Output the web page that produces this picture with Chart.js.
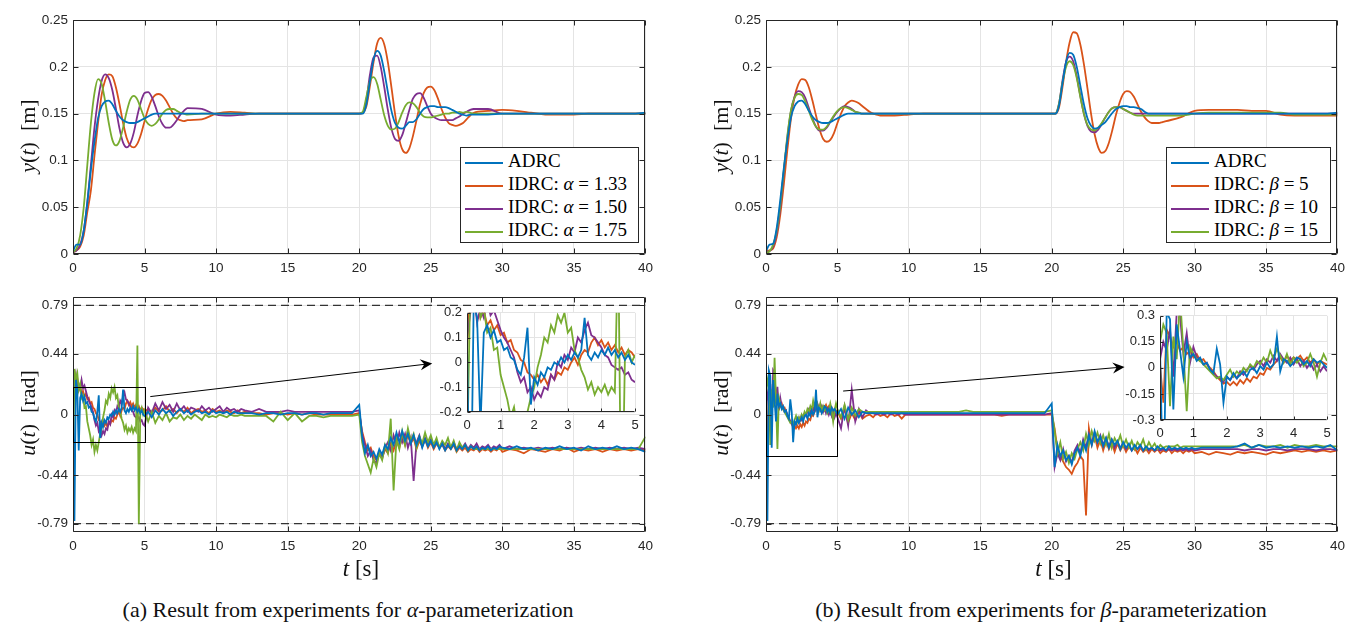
<!DOCTYPE html>
<html>
<head>
<meta charset="utf-8">
<script src="https://cdn.jsdelivr.net/npm/chart.js@4.4.1/dist/chart.umd.min.js"></script>
<style>
  html, body { margin: 0; padding: 0; background: #fff; }
  #stage { position: relative; width: 1360px; height: 628px; overflow: hidden; }
  #stage canvas { position: absolute; }
  .ttl { position: absolute; font-family: "Liberation Serif", "Times New Roman", serif; color: #111; white-space: nowrap; }
  .rot { transform: translate(-50%, -50%) rotate(-90deg); }
  .ctr { transform: translate(-50%, -50%); }
  .legend { position: absolute; background: #fff; border: 1px solid #262626; box-sizing: border-box;
            font-family: "Liberation Serif", "Times New Roman", serif; font-size: 19px; color: #000; }
  .legend .row { height: 23px; line-height: 23px; white-space: nowrap; }
  .legend .swatch { display: inline-block; width: 38px; height: 0; border-top: 2px solid; vertical-align: middle; margin: 0 5px 0 4px; }
</style>
</head>
<body>
<div id="stage"></div>
<script>
// ---- axes / ticks ----
const xTicks = [0, 5, 10, 15, 20, 25, 30, 35, 40];
const yTicks = [0, 0.05, 0.1, 0.15, 0.2, 0.25];
const uTicks = [-0.79, -0.44, 0, 0.44, 0.79];
const uLimit = 0.79;
const insetXTicks = [0, 1, 2, 3, 4, 5];
const insetTicksA = [-0.2, -0.1, 0, 0.1, 0.2];
const insetTicksB = [-0.3, -0.15, 0, 0.15, 0.3];

const colors = ['#0072BD', '#D95319', '#7E2F8E', '#77AC30'];
const paramsA = ['1.33', '1.50', '1.75'];
const paramsB = ['5', '10', '15'];

// ---- output y(t) [m] ----
const tY = [
  0, 0.25, 0.5, 0.75, 1, 1.25, 1.5, 1.75, 2, 2.25,
  2.5, 2.75, 3, 3.25, 3.5, 3.75, 4, 4.25, 4.5, 4.75,
  5, 5.25, 5.5, 5.75, 6, 6.25, 6.5, 6.75, 7, 7.25,
  7.5, 7.75, 8, 9, 10, 11, 12, 13, 14, 15,
  16, 17, 18, 19, 20, 20.25, 20.5, 20.75, 21, 21.25,
  21.5, 21.75, 22, 22.25, 22.5, 22.75, 23, 23.25, 23.5, 23.75,
  24, 24.25, 24.5, 24.75, 25, 25.25, 25.5, 25.75, 26, 26.25,
  26.5, 26.75, 27, 27.25, 27.5, 27.75, 28, 29, 30, 31,
  32, 33, 34, 35, 36, 37, 38, 39, 40
];

const yA_adrc = [
  0.003, 0.010, 0.010, 0.025, 0.055, 0.090, 0.120, 0.145, 0.158, 0.163,
  0.164, 0.160, 0.153, 0.147, 0.143, 0.141, 0.140, 0.140, 0.141, 0.143,
  0.145, 0.147, 0.149, 0.150, 0.150, 0.150, 0.150, 0.150, 0.150, 0.150,
  0.150, 0.150, 0.150, 0.150, 0.150, 0.150, 0.150, 0.150, 0.150, 0.150,
  0.150, 0.150, 0.150, 0.150, 0.150, 0.150, 0.160, 0.185, 0.208, 0.217,
  0.212, 0.195, 0.173, 0.153, 0.140, 0.135, 0.134, 0.137, 0.141, 0.141,
  0.144, 0.150, 0.155, 0.157, 0.158, 0.158, 0.157, 0.157, 0.157, 0.156,
  0.154, 0.152, 0.150, 0.149, 0.148, 0.149, 0.149, 0.149, 0.150, 0.150,
  0.150, 0.150, 0.150, 0.150, 0.150, 0.150, 0.150, 0.150, 0.151
];
const yA_133 = [
  0.002, 0.004, 0.008, 0.020, 0.045, 0.068, 0.105, 0.140, 0.170, 0.186,
  0.192, 0.190, 0.178, 0.160, 0.140, 0.124, 0.116, 0.114, 0.118, 0.128,
  0.142, 0.155, 0.165, 0.170, 0.171, 0.169, 0.164, 0.157, 0.150, 0.145,
  0.143, 0.142, 0.143, 0.144, 0.150, 0.152, 0.151, 0.150, 0.150, 0.150,
  0.150, 0.150, 0.150, 0.150, 0.150, 0.151, 0.158, 0.180, 0.205, 0.225,
  0.231, 0.224, 0.205, 0.178, 0.150, 0.126, 0.112, 0.108, 0.113, 0.126,
  0.143, 0.160, 0.172, 0.178, 0.179, 0.175, 0.166, 0.155, 0.146, 0.140,
  0.138, 0.137, 0.138, 0.140, 0.144, 0.148, 0.151, 0.153, 0.154, 0.153,
  0.151, 0.149, 0.149, 0.149, 0.150, 0.150, 0.150, 0.150, 0.150
];
const yA_150 = [
  0.002, 0.004, 0.010, 0.025, 0.055, 0.095, 0.135, 0.165, 0.185, 0.192,
  0.188, 0.175, 0.155, 0.134, 0.119, 0.114, 0.118, 0.130, 0.148, 0.163,
  0.172, 0.173, 0.168, 0.158, 0.147, 0.139, 0.135, 0.135, 0.138, 0.143,
  0.149, 0.153, 0.156, 0.155, 0.149, 0.148, 0.149, 0.150, 0.150, 0.150,
  0.150, 0.150, 0.150, 0.150, 0.150, 0.151, 0.165, 0.192, 0.210, 0.212,
  0.200, 0.178, 0.154, 0.134, 0.123, 0.121, 0.127, 0.140, 0.154, 0.166,
  0.171, 0.172, 0.167, 0.158, 0.150, 0.146, 0.144, 0.143, 0.143, 0.143,
  0.143, 0.145, 0.147, 0.150, 0.152, 0.154, 0.155, 0.155, 0.150, 0.150,
  0.150, 0.150, 0.150, 0.150, 0.150, 0.150, 0.150, 0.150, 0.150
];
const yA_175 = [
  0.002, 0.006, 0.020, 0.050, 0.095, 0.140, 0.172, 0.187, 0.182, 0.163,
  0.140, 0.122, 0.116, 0.121, 0.135, 0.152, 0.165, 0.169, 0.165, 0.155,
  0.145, 0.139, 0.137, 0.139, 0.144, 0.150, 0.154, 0.155, 0.155, 0.153,
  0.151, 0.150, 0.149, 0.150, 0.150, 0.150, 0.150, 0.150, 0.150, 0.150,
  0.150, 0.150, 0.150, 0.150, 0.150, 0.152, 0.168, 0.185, 0.189, 0.182,
  0.165, 0.148, 0.137, 0.133, 0.134, 0.141, 0.151, 0.159, 0.162, 0.161,
  0.157, 0.151, 0.147, 0.146, 0.146, 0.147, 0.148, 0.149, 0.150, 0.150,
  0.151, 0.151, 0.152, 0.151, 0.152, 0.151, 0.150, 0.150, 0.150, 0.150,
  0.150, 0.150, 0.150, 0.150, 0.150, 0.150, 0.150, 0.150, 0.150
];

const yB_adrc = [
  0.003, 0.010, 0.011, 0.028, 0.058, 0.092, 0.122, 0.146, 0.158, 0.163,
  0.164, 0.160, 0.153, 0.147, 0.143, 0.141, 0.140, 0.140, 0.141, 0.143,
  0.145, 0.147, 0.149, 0.150, 0.150, 0.150, 0.150, 0.150, 0.150, 0.150,
  0.150, 0.150, 0.150, 0.150, 0.150, 0.150, 0.150, 0.150, 0.150, 0.150,
  0.150, 0.150, 0.150, 0.150, 0.150, 0.150, 0.158, 0.182, 0.205, 0.215,
  0.213, 0.200, 0.180, 0.160, 0.145, 0.137, 0.134, 0.135, 0.138, 0.141,
  0.146, 0.151, 0.155, 0.157, 0.158, 0.158, 0.157, 0.157, 0.156, 0.155,
  0.152, 0.150, 0.150, 0.150, 0.150, 0.150, 0.150, 0.150, 0.150, 0.150,
  0.150, 0.150, 0.150, 0.150, 0.150, 0.150, 0.150, 0.150, 0.151
];
const yB_5 = [
  0.003, 0.004, 0.006, 0.018, 0.042, 0.075, 0.112, 0.145, 0.168, 0.181,
  0.187, 0.186, 0.178, 0.164, 0.148, 0.133, 0.123, 0.120, 0.122, 0.129,
  0.140, 0.150, 0.158, 0.162, 0.164, 0.163, 0.161, 0.158, 0.155, 0.152,
  0.150, 0.149, 0.148, 0.148, 0.149, 0.150, 0.150, 0.150, 0.150, 0.150,
  0.150, 0.150, 0.150, 0.150, 0.150, 0.150, 0.156, 0.178, 0.205, 0.226,
  0.237, 0.236, 0.224, 0.203, 0.177, 0.150, 0.128, 0.114, 0.108, 0.110,
  0.119, 0.133, 0.149, 0.162, 0.171, 0.174, 0.173, 0.168, 0.160, 0.152,
  0.146, 0.142, 0.140, 0.140, 0.140, 0.141, 0.142, 0.146, 0.153, 0.154,
  0.154, 0.154, 0.153, 0.153, 0.149, 0.148, 0.148, 0.148, 0.148
];
const yB_10 = [
  0.002, 0.003, 0.008, 0.022, 0.050, 0.088, 0.125, 0.153, 0.168, 0.174,
  0.173, 0.167, 0.156, 0.145, 0.136, 0.132, 0.132, 0.135, 0.141, 0.147,
  0.152, 0.156, 0.158, 0.157, 0.155, 0.152, 0.151, 0.150, 0.150, 0.150,
  0.150, 0.150, 0.150, 0.150, 0.150, 0.150, 0.150, 0.150, 0.150, 0.150,
  0.150, 0.150, 0.150, 0.150, 0.150, 0.150, 0.160, 0.185, 0.205, 0.211,
  0.206, 0.190, 0.169, 0.150, 0.137, 0.131, 0.130, 0.133, 0.139, 0.146,
  0.152, 0.156, 0.157, 0.157, 0.155, 0.153, 0.151, 0.150, 0.150, 0.150,
  0.150, 0.150, 0.150, 0.150, 0.150, 0.150, 0.150, 0.150, 0.150, 0.150,
  0.150, 0.150, 0.150, 0.150, 0.150, 0.150, 0.150, 0.150, 0.150
];
const yB_15 = [
  0.001, 0.003, 0.010, 0.025, 0.053, 0.090, 0.127, 0.154, 0.167, 0.171,
  0.170, 0.163, 0.153, 0.143, 0.136, 0.133, 0.133, 0.136, 0.142, 0.148,
  0.153, 0.156, 0.157, 0.156, 0.154, 0.152, 0.151, 0.150, 0.150, 0.150,
  0.150, 0.150, 0.150, 0.150, 0.150, 0.150, 0.150, 0.150, 0.150, 0.150,
  0.150, 0.150, 0.150, 0.150, 0.150, 0.150, 0.160, 0.183, 0.200, 0.206,
  0.202, 0.188, 0.168, 0.150, 0.138, 0.133, 0.132, 0.135, 0.140, 0.146,
  0.152, 0.156, 0.157, 0.157, 0.155, 0.153, 0.151, 0.149, 0.148, 0.148,
  0.148, 0.148, 0.148, 0.148, 0.148, 0.148, 0.148, 0.148, 0.150, 0.151,
  0.151, 0.151, 0.151, 0.151, 0.151, 0.149, 0.149, 0.149, 0.149
];

// ---- control input u(t) [rad] ----
const tU = [
  0, 0.1, 0.2, 0.3, 0.4, 0.5, 0.6, 0.7, 0.8, 0.9,
  1, 1.1, 1.2, 1.3, 1.4, 1.5, 1.6, 1.7, 1.8, 1.9,
  2, 2.1, 2.2, 2.3, 2.4, 2.5, 2.6, 2.7, 2.8, 2.9,
  3, 3.1, 3.2, 3.3, 3.4, 3.5, 3.6, 3.7, 3.8, 3.9,
  4, 4.1, 4.2, 4.3, 4.4, 4.5, 4.6, 4.7, 4.8, 4.9,
  5, 5.25, 5.5, 5.75, 6, 6.25, 6.5, 6.75, 7, 7.25,
  7.5, 7.75, 8, 8.25, 8.5, 8.75, 9, 9.25, 9.5, 9.75,
  10, 10.25, 10.5, 10.75, 11, 11.25, 11.5, 11.75, 12, 12.5,
  13, 13.5, 14, 14.5, 15, 15.5, 16, 16.5, 17, 17.5,
  18, 18.5, 19, 19.5, 20, 20.2, 20.4, 20.6, 20.8, 21,
  21.2, 21.4, 21.6, 21.8, 22, 22.2, 22.4, 22.6, 22.8, 23,
  23.2, 23.4, 23.6, 23.8, 24, 24.2, 24.4, 24.6, 24.8, 25,
  25.2, 25.4, 25.6, 25.8, 26, 26.2, 26.4, 26.6, 26.8, 27,
  27.2, 27.4, 27.6, 27.8, 28, 28.2, 28.4, 28.6, 28.8, 29,
  29.2, 29.4, 29.6, 29.8, 30, 30.5, 31, 31.5, 32, 32.5,
  33, 33.5, 34, 34.5, 35, 35.5, 36, 36.5, 37, 37.5,
  38, 38.5, 39, 39.5, 40
];

const uA_adrc = [
  0.08, -0.77, 0.25, 0.18, -0.26, 0.12, 0.15, 0.10, 0.13, 0.08,
  0.09, 0.05, 0.06, 0.02, 0.01, -0.03, -0.05, 0.02, 0.14, -0.17,
  -0.06, -0.09, -0.04, -0.06, -0.02, -0.03, 0.00, -0.01, 0.02, 0.00,
  0.03, 0.01, 0.04, 0.02, 0.05, 0.18, 0.03, 0.01, 0.04, 0.02,
  0.05, 0.03, 0.06, 0.03, 0.05, 0.02, 0.04, 0.01, 0.03, 0.00,
  -0.01, 0.02, -0.02, 0.03, 0.00, 0.04, 0.01, 0.03, -0.01, 0.02,
  0.04, 0.01, 0.03, 0.00, 0.02, 0.03, 0.01, 0.02, 0.00, 0.03,
  0.01, 0.02, 0.01, 0.02, 0.00, 0.02, 0.01, 0.01, 0.01, 0.01,
  0.00, 0.01, 0.01, 0.00, 0.01, 0.01, 0.00, 0.01, 0.01, 0.00,
  0.01, 0.01, 0.01, 0.01, 0.07, -0.16, -0.28, -0.22, -0.30, -0.27,
  -0.32, -0.25, -0.29, -0.22, -0.25, -0.17, -0.22, -0.13, -0.20, -0.12,
  -0.19, -0.14, -0.21, -0.15, -0.22, -0.16, -0.24, -0.18, -0.23, -0.19,
  -0.24, -0.20, -0.25, -0.21, -0.26, -0.22, -0.25, -0.21, -0.26, -0.23,
  -0.25, -0.22, -0.26, -0.23, -0.25, -0.23, -0.26, -0.24, -0.25, -0.23,
  -0.26, -0.24, -0.25, -0.23, -0.24, -0.25, -0.23, -0.25, -0.24, -0.26,
  -0.24, -0.25, -0.23, -0.25, -0.24, -0.26, -0.23, -0.25, -0.24, -0.25,
  -0.23, -0.25, -0.24, -0.25, -0.27
];
const uA_133 = [
  0.05, 0.30, 0.22, 0.26, 0.18, 0.21, 0.15, 0.17, 0.13, 0.15,
  0.11, 0.12, 0.08, 0.09, 0.05, 0.04, 0.01, 0.00, -0.04, -0.05,
  -0.07, -0.05, -0.08, -0.06, -0.09, -0.05, -0.07, -0.04, -0.05, -0.02,
  -0.03, 0.00, 0.02, -0.01, 0.03, 0.05, 0.04, 0.08, 0.10, 0.07,
  0.09, 0.06, 0.08, 0.05, 0.07, 0.04, 0.06, 0.03, 0.05, 0.04,
  0.02, 0.04, 0.01, 0.05, 0.02, 0.03, 0.06, 0.02, 0.04, 0.01,
  0.04, 0.02, 0.05, 0.01, 0.03, 0.04, 0.02, 0.03, 0.01, 0.04,
  0.02, 0.03, 0.01, 0.03, 0.02, 0.01, 0.03, 0.01, 0.02, 0.01,
  0.01, 0.00, 0.01, 0.01, 0.00, 0.01, 0.00, 0.01, 0.00, 0.00,
  0.00, 0.00, 0.00, 0.00, 0.01, -0.12, -0.20, -0.26, -0.24, -0.30,
  -0.33, -0.28, -0.31, -0.25, -0.28, -0.21, -0.26, -0.18, -0.24, -0.16,
  -0.22, -0.15, -0.21, -0.17, -0.25, -0.19, -0.23, -0.18, -0.24, -0.20,
  -0.25, -0.21, -0.24, -0.22, -0.26, -0.23, -0.25, -0.22, -0.27, -0.24,
  -0.26, -0.24, -0.27, -0.25, -0.26, -0.24, -0.27, -0.25, -0.26, -0.25,
  -0.27, -0.25, -0.26, -0.24, -0.27, -0.25, -0.26, -0.28, -0.25, -0.26,
  -0.27, -0.25, -0.26, -0.24, -0.27, -0.25, -0.26, -0.25, -0.27, -0.25,
  -0.26, -0.25, -0.26, -0.25, -0.26
];
const uA_150 = [
  0.10, 0.20, 0.28, 0.16, 0.22, 0.18, 0.25, 0.19, 0.21, 0.17,
  0.13, 0.10, 0.08, 0.05, 0.02, -0.04, -0.08, -0.06, -0.12, -0.10,
  -0.15, -0.12, -0.14, -0.10, -0.11, -0.05, -0.07, 0.00, -0.02, 0.03,
  0.01, 0.06, 0.04, 0.10, 0.08, 0.13, 0.16, 0.11, 0.10, 0.08,
  0.06, 0.03, 0.02, -0.01, -0.02, -0.03, -0.02, -0.05, -0.04, -0.07,
  -0.08, 0.05, 0.01, 0.08, 0.03, 0.09, 0.04, 0.07, 0.02, 0.08,
  0.03, 0.06, 0.02, 0.05, 0.04, 0.02, 0.06, 0.03, 0.05, 0.02,
  0.04, 0.06, 0.02, 0.05, 0.03, 0.04, 0.02, 0.04, 0.03, 0.02,
  0.04, 0.02, 0.02, 0.02, 0.03, 0.02, 0.02, 0.02, 0.02, 0.02,
  0.02, 0.02, 0.02, 0.02, 0.03, -0.14, -0.22, -0.30, -0.26, -0.33,
  -0.35, -0.28, -0.32, -0.24, -0.20, -0.26, -0.15, -0.22, -0.13, -0.20,
  -0.14, -0.24, -0.17, -0.48, -0.20, -0.15, -0.23, -0.17, -0.22, -0.18,
  -0.23, -0.19, -0.24, -0.20, -0.25, -0.21, -0.24, -0.20, -0.25, -0.22,
  -0.24, -0.21, -0.25, -0.22, -0.24, -0.21, -0.25, -0.23, -0.24, -0.22,
  -0.25, -0.23, -0.24, -0.22, -0.25, -0.23, -0.25, -0.24, -0.25, -0.24,
  -0.25, -0.24, -0.25, -0.24, -0.25, -0.24, -0.25, -0.24, -0.25, -0.24,
  -0.25, -0.24, -0.25, -0.24, -0.25
];
const uA_175 = [
  -0.42, 0.33, 0.26, 0.30, 0.18, 0.22, 0.12, 0.14, 0.05, 0.06,
  -0.05, -0.10, -0.15, -0.22, -0.18, -0.27, -0.22, -0.26, -0.20, -0.14,
  -0.10, -0.02, 0.03, 0.10, 0.08, 0.15, 0.12, 0.19, 0.16, 0.20,
  0.12, 0.14, 0.05, 0.02, -0.03, -0.06, -0.11, -0.08, -0.13, -0.10,
  -0.12, -0.09, -0.13, -0.10, -0.12, 0.50, -0.79, 0.02, 0.05, 0.00,
  0.03, -0.05, 0.02, -0.06, -0.01, -0.04, 0.01, -0.05, -0.02, -0.03,
  0.00, -0.04, -0.01, -0.03, 0.00, -0.02, -0.04, 0.00, -0.02, -0.01,
  -0.02, 0.00, -0.01, -0.02, 0.00, -0.01, -0.01, 0.00, -0.01, -0.01,
  -0.01, -0.01, -0.05, 0.02, -0.04, 0.01, -0.05, -0.01, -0.01, -0.02,
  -0.01, -0.01, -0.01, -0.01, 0.00, -0.20, -0.30, -0.36, -0.42, -0.32,
  -0.38, -0.28, -0.33, -0.22, -0.28, -0.03, -0.55, -0.18, -0.25, -0.12,
  -0.22, -0.10, -0.19, -0.14, -0.24, -0.16, -0.21, -0.13, -0.20, -0.15,
  -0.22, -0.17, -0.24, -0.19, -0.22, -0.17, -0.24, -0.19, -0.26, -0.20,
  -0.24, -0.22, -0.26, -0.23, -0.25, -0.25, -0.25, -0.25, -0.25, -0.25,
  -0.25, -0.25, -0.25, -0.25, -0.25, -0.25, -0.25, -0.25, -0.25, -0.25,
  -0.25, -0.25, -0.25, -0.25, -0.25, -0.25, -0.25, -0.25, -0.25, -0.25,
  -0.25, -0.25, -0.25, -0.25, -0.16
];

const uB_adrc = [
  0.11, -0.77, 0.32, 0.28, -0.24, 0.25, 0.10, -0.05, 0.15, 0.06,
  0.08, 0.04, 0.06, 0.02, 0.03, -0.01, -0.03, 0.11, 0.02, -0.20,
  -0.05, -0.07, -0.03, -0.06, -0.04, -0.02, -0.05, -0.01, 0.00, -0.03,
  0.01, -0.01, 0.03, 0.00, 0.02, 0.18, -0.02, 0.05, 0.04, 0.01,
  0.03, 0.06, 0.05, 0.02, 0.04, 0.01, 0.05, 0.03, 0.04, 0.02,
  0.00, 0.04, -0.03, 0.05, 0.00, 0.03, -0.02, 0.02, 0.01, 0.01,
  0.01, 0.01, 0.01, 0.01, 0.01, 0.01, 0.01, 0.01, 0.01, 0.01,
  0.01, 0.01, 0.01, 0.01, 0.01, 0.01, 0.01, 0.01, 0.01, 0.01,
  0.01, 0.01, 0.01, 0.01, 0.01, 0.01, 0.01, 0.01, 0.01, 0.01,
  0.01, 0.01, 0.01, 0.01, 0.08, -0.38, -0.22, -0.30, -0.26, -0.33,
  -0.30, -0.36, -0.28, -0.24, -0.30, -0.20, -0.26, -0.15, -0.22, -0.12,
  -0.20, -0.16, -0.23, -0.17, -0.24, -0.18, -0.22, -0.19, -0.25, -0.20,
  -0.24, -0.21, -0.26, -0.22, -0.25, -0.22, -0.26, -0.23, -0.25, -0.24,
  -0.26, -0.23, -0.25, -0.24, -0.26, -0.23, -0.25, -0.24, -0.25, -0.24,
  -0.25, -0.24, -0.25, -0.24, -0.25, -0.24, -0.24, -0.24, -0.24, -0.24,
  -0.23, -0.21, -0.24, -0.22, -0.24, -0.23, -0.24, -0.23, -0.24, -0.23,
  -0.24, -0.23, -0.24, -0.22, -0.26
];
const uB_5 = [
  0.02, -0.20, 0.22, 0.18, 0.12, 0.15, 0.10, 0.12, 0.08, 0.10,
  0.06, 0.08, 0.04, 0.05, 0.02, 0.00, -0.02, -0.05, -0.07, -0.09,
  -0.08, -0.10, -0.08, -0.10, -0.07, -0.09, -0.06, -0.08, -0.05, -0.06,
  -0.03, -0.04, 0.00, -0.01, 0.02, 0.04, 0.06, 0.03, 0.07, 0.04,
  0.06, 0.05, 0.07, 0.04, 0.06, 0.03, 0.05, 0.02, 0.04, 0.03,
  0.02, -0.03, 0.04, -0.06, 0.01, -0.04, 0.02, -0.03, -0.01, 0.00,
  -0.02, 0.01, -0.01, 0.00, -0.02, 0.01, -0.01, 0.00, -0.03, 0.00,
  0.00, 0.00, 0.00, 0.00, 0.00, 0.00, 0.00, 0.00, 0.00, 0.00,
  0.00, 0.00, 0.00, 0.00, 0.00, 0.00, 0.00, -0.01, 0.00, 0.00,
  0.00, 0.00, 0.00, 0.00, 0.00, -0.10, -0.25, -0.30, -0.34, -0.38,
  -0.40, -0.43, -0.38, -0.35, -0.30, -0.33, -0.73, -0.10, -0.22, -0.15,
  -0.24, -0.18, -0.26, -0.19, -0.25, -0.20, -0.27, -0.21, -0.26, -0.22,
  -0.27, -0.23, -0.26, -0.24, -0.28, -0.24, -0.27, -0.25, -0.28, -0.25,
  -0.27, -0.25, -0.28, -0.26, -0.27, -0.25, -0.28, -0.26, -0.27, -0.26,
  -0.28, -0.26, -0.27, -0.26, -0.28, -0.27, -0.29, -0.27, -0.28, -0.29,
  -0.27, -0.28, -0.27, -0.28, -0.29, -0.27, -0.28, -0.27, -0.26, -0.27,
  -0.26, -0.27, -0.26, -0.27, -0.26
];
const uB_10 = [
  0.05, 0.15, 0.10, 0.22, -0.05, 0.32, 0.30, 0.08, 0.20, 0.03,
  0.12, 0.06, 0.05, 0.02, 0.03, -0.01, -0.03, -0.05, -0.06, -0.08,
  -0.05, -0.07, -0.04, -0.06, -0.02, -0.04, -0.01, 0.01, -0.01, 0.02,
  0.04, 0.01, 0.05, 0.03, 0.07, 0.04, 0.08, 0.05, 0.03, 0.06,
  0.02, 0.05, 0.01, 0.04, 0.00, 0.03, -0.01, 0.02, -0.02, 0.01,
  -0.02, -0.10, 0.06, -0.08, 0.18, -0.05, 0.04, -0.02, 0.03, 0.01,
  0.01, 0.00, 0.01, 0.00, 0.01, 0.00, 0.01, 0.00, 0.01, 0.00,
  0.00, 0.00, 0.00, 0.00, 0.00, 0.00, 0.00, 0.00, 0.00, 0.00,
  0.00, 0.00, 0.00, 0.00, 0.00, 0.00, 0.00, 0.00, 0.00, 0.00,
  0.00, 0.00, 0.00, 0.00, 0.01, -0.38, -0.28, -0.33, -0.25, -0.34,
  -0.30, -0.35, -0.26, -0.22, -0.28, -0.18, -0.24, -0.14, -0.21, -0.13,
  -0.20, -0.15, -0.22, -0.17, -0.23, -0.18, -0.24, -0.20, -0.24, -0.21,
  -0.25, -0.22, -0.26, -0.23, -0.25, -0.23, -0.26, -0.24, -0.26, -0.24,
  -0.26, -0.25, -0.26, -0.25, -0.26, -0.25, -0.26, -0.25, -0.26, -0.25,
  -0.26, -0.25, -0.26, -0.25, -0.26, -0.25, -0.25, -0.25, -0.25, -0.25,
  -0.25, -0.26, -0.25, -0.25, -0.26, -0.25, -0.25, -0.26, -0.25, -0.25,
  -0.25, -0.26, -0.25, -0.25, -0.26
];
const uB_15 = [
  0.15, 0.25, 0.20, -0.22, 0.18, 0.05, 0.41, 0.10, -0.25, 0.12,
  0.08, 0.05, 0.04, 0.02, 0.00, -0.02, -0.04, -0.06, -0.05, -0.07,
  -0.04, -0.01, -0.05, -0.02, -0.04, 0.00, -0.02, 0.02, 0.00, 0.04,
  0.02, 0.06, 0.03, 0.10, 0.05, 0.11, 0.07, 0.03, 0.08, 0.02,
  0.06, 0.03, 0.05, 0.01, 0.03, 0.08, 0.03, -0.05, 0.03, 0.08,
  0.04, -0.02, 0.07, -0.04, 0.05, -0.01, 0.04, 0.02, 0.02, 0.02,
  0.02, 0.02, 0.02, 0.02, 0.02, 0.02, 0.02, 0.02, 0.02, 0.02,
  0.02, 0.02, 0.02, 0.02, 0.02, 0.02, 0.02, 0.02, 0.02, 0.02,
  0.02, 0.02, 0.03, 0.02, 0.02, 0.02, 0.02, 0.02, 0.02, 0.02,
  0.02, 0.02, 0.02, 0.02, 0.03, -0.12, -0.28, -0.20, -0.32, -0.27,
  -0.35, -0.28, -0.32, -0.25, -0.20, -0.26, -0.14, -0.22, -0.12, -0.19,
  -0.13, -0.21, -0.15, -0.22, -0.14, -0.24, -0.17, -0.21, -0.15, -0.23,
  -0.18, -0.24, -0.19, -0.25, -0.20, -0.23, -0.18, -0.25, -0.20, -0.24,
  -0.21, -0.25, -0.22, -0.24, -0.23, -0.23, -0.23, -0.23, -0.22, -0.24,
  -0.23, -0.23, -0.23, -0.23, -0.23, -0.23, -0.23, -0.23, -0.23, -0.23,
  -0.23, -0.22, -0.24, -0.22, -0.23, -0.23, -0.22, -0.24, -0.22, -0.23,
  -0.23, -0.22, -0.23, -0.23, -0.23
];

// zoom window + arrow annotations (data coordinates)
const arrowA = { from: [5.4, 0.13], to: [25.1, 0.37] };
const arrowB = { from: [5.4, 0.17], to: [25.1, 0.345] };

// ---- page layout (chart areas in page pixels) ----
const LAYOUT = {
  topA: { left: 73, top: 17, right: 649, bottom: 254 },
  botA: { left: 73, top: 294, right: 649, bottom: 532 },
  insA: { left: 467, top: 310, right: 635, bottom: 412 },
  topB: { left: 766, top: 17, right: 1341, bottom: 254 },
  botB: { left: 766, top: 294, right: 1341, bottom: 532 },
  insB: { left: 1160, top: 313, right: 1327, bottom: 420 }
};

const tickFont = { family: '"Liberation Sans", Arial, Helvetica, sans-serif', size: 13.5 };
const insetFont = { family: '"Liberation Sans", Arial, Helvetica, sans-serif', size: 13 };
const axisColor = '#262626';
const gridColor = '#e4e4e4';

// MATLAB-like box with inward tick marks
const matlabAxes = {
  id: 'matlabAxes',
  beforeDraw(chart, args, o) {
    if (!o.fill) return;
    const { ctx, chartArea: a } = chart;
    ctx.save();
    ctx.fillStyle = o.fill;
    ctx.fillRect(a.left, a.top, a.right - a.left, a.bottom - a.top);
    ctx.restore();
  },
  afterDatasetsDraw(chart, args, o) {
    const { ctx, chartArea: a, scales } = chart;
    const L = Math.round(a.left) + 0.5, R = Math.round(a.right) - 0.5;
    const T = Math.round(a.top) + 0.5, B = Math.round(a.bottom) - 0.5;
    const len = o.tick || 5;
    ctx.save();
    ctx.strokeStyle = axisColor;
    ctx.lineWidth = 1;
    ctx.beginPath();
    if (o.box) {
      ctx.rect(L, T, R - L, B - T);
    } else {
      ctx.moveTo(L, T); ctx.lineTo(L, B); ctx.lineTo(R, B);
    }
    scales.x.ticks.forEach(tk => {
      const px = Math.round(scales.x.getPixelForValue(tk.value)) + 0.5;
      ctx.moveTo(px, B); ctx.lineTo(px, B - len);
      if (o.box) { ctx.moveTo(px, T); ctx.lineTo(px, T + len); }
    });
    scales.y.ticks.forEach(tk => {
      const py = Math.round(scales.y.getPixelForValue(tk.value)) + 0.5;
      ctx.moveTo(L, py); ctx.lineTo(L + len, py);
      if (o.box) { ctx.moveTo(R, py); ctx.lineTo(R - len, py); }
    });
    ctx.stroke();
    ctx.restore();
  }
};

// zoom rectangle and arrow pointing at the inset
const zoomMark = {
  id: 'zoomMark',
  afterDatasetsDraw(chart, args, o) {
    if (!o.rect) return;
    const { ctx, scales: { x, y } } = chart;
    const x0 = x.getPixelForValue(o.rect.x[0]), x1 = x.getPixelForValue(o.rect.x[1]);
    const y0 = y.getPixelForValue(o.rect.y[0]), y1 = y.getPixelForValue(o.rect.y[1]);
    ctx.save();
    ctx.strokeStyle = '#000';
    ctx.lineWidth = 1;
    ctx.strokeRect(Math.round(x0) + 0.5, Math.round(y1) + 0.5, Math.round(x1 - x0), Math.round(y0 - y1));
    const ax = x.getPixelForValue(o.arrow.from[0]), ay = y.getPixelForValue(o.arrow.from[1]);
    const bx = x.getPixelForValue(o.arrow.to[0]), by = y.getPixelForValue(o.arrow.to[1]);
    const d = Math.hypot(bx - ax, by - ay), ux = (bx - ax) / d, uy = (by - ay) / d;
    const nx = -uy, ny = ux, hl = 12, hw = 5.5;
    ctx.beginPath();
    ctx.moveTo(ax, ay); ctx.lineTo(bx - ux * 6, by - uy * 6);
    ctx.stroke();
    ctx.fillStyle = '#000';
    ctx.beginPath();
    ctx.moveTo(bx, by);
    ctx.lineTo(bx - ux * hl + nx * hw, by - uy * hl + ny * hw);
    ctx.lineTo(bx - ux * 8, by - uy * 8);
    ctx.lineTo(bx - ux * hl - nx * hw, by - uy * hl - ny * hw);
    ctx.closePath();
    ctx.fill();
    ctx.restore();
  }
};

Chart.register(matlabAxes, zoomMark);

const stage = document.getElementById('stage');

function lineSets(t, series, smooth) {
  return series.map((s, i) => ({
    data: t.map((x, j) => ({ x, y: s[j] })),
    borderColor: colors[i],
    borderWidth: 1.8,
    pointRadius: 0,
    fill: false,
    tension: 0,
    cubicInterpolationMode: smooth ? 'monotone' : 'default',
    clip: 0,
    // ADRC drawn on top, then the IDRC variants
    order: [0, 3, 2, 1][i]
  }));
}

function limitSets() {
  const x0 = xTicks[0], x1 = xTicks[xTicks.length - 1];
  return [uLimit, -uLimit].map(v => ({
    data: [{ x: x0, y: v }, { x: x1, y: v }],
    borderColor: '#333',
    borderWidth: 1.2,
    borderDash: [8, 5],
    pointRadius: 0,
    order: 10
  }));
}

function axis(ticks, min, max, font, fmt) {
  return {
    type: 'linear', min, max,
    afterBuildTicks: s => { s.ticks = ticks.map(v => ({ value: v })); },
    ticks: { color: axisColor, font, padding: 5, autoSkip: false, maxRotation: 0,
             callback: v => fmt ? fmt(v) : String(v) },
    grid: { color: gridColor, lineWidth: 1, drawTicks: false },
    border: { display: false }
  };
}

function mount(box, yw, datasets, scales, plugins) {
  const c = document.createElement('canvas');
  const w = box.right - box.left + yw + 10, h = box.bottom - box.top + 40;
  c.width = w; c.height = h;
  c.style.left = (box.left - yw) + 'px';
  c.style.top = (box.top - 10) + 'px';
  c.style.width = w + 'px';
  c.style.height = h + 'px';
  stage.appendChild(c);
  scales.x.afterFit = s => { s.height = 30; };
  scales.y.afterFit = s => { s.width = yw; };
  scales.x.ticks.padding = 6;
  return new Chart(c, {
    type: 'line',
    data: { datasets },
    options: {
      responsive: false, animation: false, devicePixelRatio: 1, events: [],
      layout: { padding: { left: 0, right: 10, top: 10, bottom: 0 } },
      plugins: Object.assign({ legend: { display: false }, tooltip: { enabled: false } }, plugins),
      scales
    }
  });
}

function panel(key, ySeries, uSeries, insetTicks, arrow) {
  const fmtU = v => (v === 0 ? '0' : String(v));
  mount(LAYOUT['top' + key], 60, lineSets(tY, ySeries, true),
    { x: axis(xTicks, 0, 40, tickFont), y: axis(yTicks, 0, 0.25, tickFont) },
    { matlabAxes: { box: true, tick: 5 } });

  const lim = insetTicks[insetTicks.length - 1];
  mount(LAYOUT['bot' + key], 60, limitSets().concat(lineSets(tU, uSeries, false)),
    { x: axis(xTicks, 0, 40, tickFont), y: axis(uTicks, -0.85, 0.85, tickFont, fmtU) },
    { matlabAxes: { box: true, tick: 5 },
      zoomMark: { rect: { x: [0, 5], y: [-lim, lim] }, arrow } });

  mount(LAYOUT['ins' + key], 40, lineSets(tU, uSeries, false),
    { x: axis(insetXTicks, 0, 5, insetFont), y: axis(insetTicks, -lim, lim, insetFont, fmtU) },
    { matlabAxes: { box: false, tick: 3, fill: '#fff' } });
}

panel('A', [yA_adrc, yA_133, yA_150, yA_175], [uA_adrc, uA_133, uA_150, uA_175], insetTicksA, arrowA);
panel('B', [yB_adrc, yB_5, yB_10, yB_15], [uB_adrc, uB_5, uB_10, uB_15], insetTicksB, arrowB);

// ---- text: axis titles, legends, captions ----
function text(html, x, y, size, cls) {
  const d = document.createElement('div');
  d.className = 'ttl ' + cls;
  d.style.left = x + 'px';
  d.style.top = y + 'px';
  d.style.fontSize = size + 'px';
  d.innerHTML = html;
  stage.appendChild(d);
}

function legend(left, top, width, sym, params) {
  const d = document.createElement('div');
  d.className = 'legend';
  d.style.left = left + 'px';
  d.style.top = top + 'px';
  d.style.width = width + 'px';
  d.style.height = '96px';
  d.style.paddingTop = '1px';
  const labels = ['ADRC'].concat(params.map(p => `IDRC: <i>${sym}</i> = ${p}`));
  d.innerHTML = labels.map((l, i) =>
    `<div class="row"><span class="swatch" style="border-color:${colors[i]}"></span>${l}</div>`).join('');
  stage.appendChild(d);
}

[['A', 'α', paramsA, 179], ['B', 'β', paramsB, 165]].forEach(([k, sym, params, lw]) => {
  const top = LAYOUT['top' + k], bot = LAYOUT['bot' + k];
  const cx = (top.left + top.right) / 2;
  text('<i>y</i>(<i>t</i>)&nbsp;&nbsp;[m]', top.left - 45, (top.top + top.bottom) / 2, 22, 'rot');
  text('<i>u</i>(<i>t</i>)&nbsp;&nbsp;[rad]', bot.left - 45, (bot.top + bot.bottom) / 2, 22, 'rot');
  text('<i>t</i>&nbsp;[s]', cx, 569, 23, 'ctr');
  legend(top.right - 10 - lw, 147, lw, sym, params);
});

text('(a) Result from experiments for <i>α</i>-parameterization', 348, 610, 22, 'ctr');
text('(b) Result from experiments for <i>β</i>-parameterization', 1041, 610, 22, 'ctr');
</script>
</body>
</html>
